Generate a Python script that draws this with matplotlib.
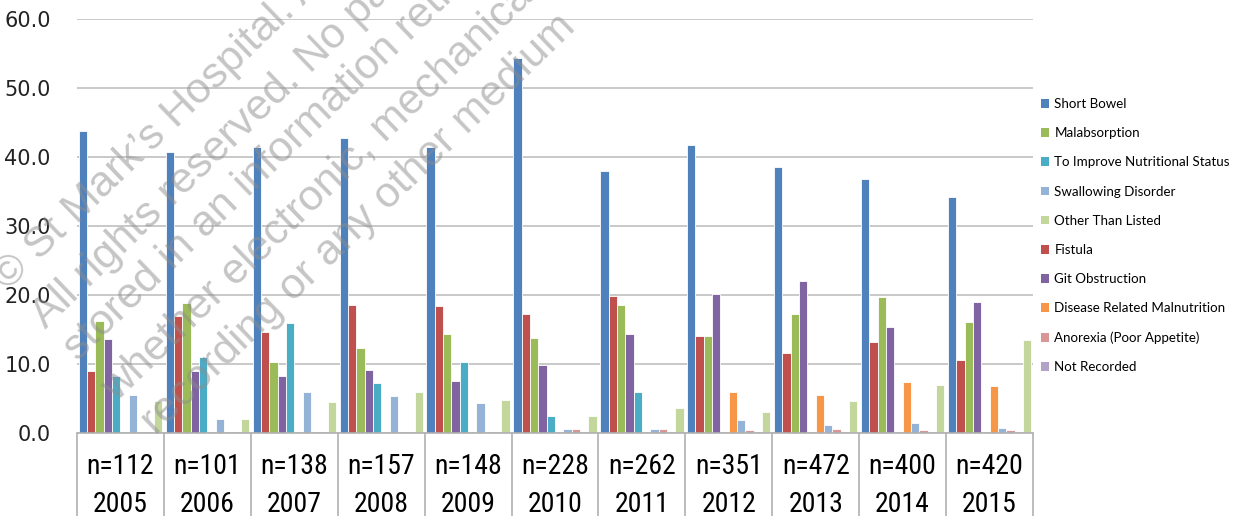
import matplotlib
matplotlib.use('Agg')
import matplotlib.pyplot as plt
import matplotlib.transforms as mtransforms
from matplotlib.patches import Patch
import numpy as np

# categories / bottom table labels
years = ['2005', '2006', '2007', '2008', '2009', '2010', '2011', '2012', '2013', '2014', '2015']
n_labels = ['n=112', 'n=101', 'n=138', 'n=157', 'n=148', 'n=228', 'n=262', 'n=351', 'n=472', 'n=400', 'n=420']

# percentages per indication
short_bowel = [43.8, 40.7, 41.4, 42.7, 41.4, 54.4, 37.9, 41.7, 38.6, 36.8, 34.2]
fistula = [9.0, 17.0, 14.6, 18.6, 18.4, 17.2, 19.9, 14.1, 11.6, 13.2, 10.6]
malabsorption = [16.2, 18.9, 10.3, 12.3, 14.3, 13.7, 18.5, 14.1, 17.3, 19.7, 16.1]
git_obstruction = [13.6, 9.0, 8.2, 9.1, 7.6, 9.9, 14.3, 20.1, 22.0, 15.4, 19.0]
improve_nutrition = [8.2, 11.0, 16.0, 7.2, 10.3, 2.4, 5.9, 0.0, 0.0, 0.0, 0.0]
disease_malnutrition = [0.0, 0.0, 0.0, 0.0, 0.0, 0.0, 0.0, 5.9, 5.5, 7.4, 6.8]
swallowing = [5.5, 2.1, 5.9, 5.3, 4.3, 0.6, 0.6, 1.9, 1.1, 1.5, 0.7]
anorexia = [0.0, 0.0, 0.0, 0.0, 0.0, 0.6, 0.6, 0.5, 0.6, 0.4, 0.5]
not_recorded = [0.0, 0.0, 0.0, 0.0, 0.0, 0.0, 0.0, 0.0, 0.0, 0.0, 0.0]
other_listed = [4.6, 2.1, 4.5, 5.9, 4.8, 2.4, 3.6, 3.0, 4.6, 6.9, 13.5]

# bar order within each year group
series = [
    ('Short Bowel', short_bowel, '#4F81BD'),
    ('Fistula', fistula, '#C0504D'),
    ('Malabsorption', malabsorption, '#9BBB59'),
    ('Git Obstruction', git_obstruction, '#8064A2'),
    ('To Improve Nutritional Status', improve_nutrition, '#4BACC6'),
    ('Disease Related Malnutrition', disease_malnutrition, '#F79646'),
    ('Swallowing Disorder', swallowing, '#95B3D7'),
    ('Anorexia (Poor Appetite)', anorexia, '#D99694'),
    ('Not Recorded', not_recorded, '#B3A2C7'),
    ('Other Than Listed', other_listed, '#C3D69B'),
]
# legend order as in the original
legend_order = ['Short Bowel', 'Malabsorption', 'To Improve Nutritional Status',
                'Swallowing Disorder', 'Other Than Listed', 'Fistula', 'Git Obstruction',
                'Disease Related Malnutrition', 'Anorexia (Poor Appetite)', 'Not Recorded']

fig = plt.figure(figsize=(12.44, 5.16), dpi=100)
ax = fig.add_axes([77 / 1244, 83 / 516, 956 / 1244, 414 / 516])

x = np.arange(len(years))
nser = len(series)
w = 1.0 / (nser + 0.43)
colors = {}
for i, (name, vals, col) in enumerate(series):
    off = (i - (nser - 1) / 2) * w
    ax.bar(x + off, vals, width=w, color=col, edgecolor='white', linewidth=0.6)
    colors[name] = col

ax.set_xlim(-0.5, len(years) - 0.5)
ax.set_ylim(0, 60)
ax.set_yticks(np.arange(0, 61, 10))
ax.set_yticklabels(['%.1f' % v for v in np.arange(0, 61, 10)], fontsize=15, color='#222222')
ax.yaxis.grid(True, color='#c0c0c0', linewidth=1.2)
ax.set_axisbelow(True)
ax.tick_params(axis='y', length=0, pad=19)
ax.set_xticks([])
for s in ['left', 'right', 'top']:
    ax.spines[s].set_visible(False)
ax.spines['bottom'].set_color('#b0b0b0')
ax.spines['bottom'].set_linewidth(1.2)

# category table under the axis
trans = mtransforms.blended_transform_factory(ax.transData, ax.transAxes)
bounds = np.arange(len(years) + 1) - 0.5
ax.vlines(bounds, -0.21, 0, transform=trans, color='#b0b0b0', linewidth=1.2, clip_on=False)
cat_font = dict(fontsize=20, family=['Roboto Condensed', 'DejaVu Sans'], fontstretch='condensed')
for i in range(len(years)):
    ax.text(x[i], -0.082, n_labels[i], transform=trans, ha='center', va='center', **cat_font)
    ax.text(x[i], -0.173, years[i], transform=trans, ha='center', va='center', **cat_font)

handles = [Patch(facecolor=colors[n], edgecolor='none') for n in legend_order]
fig.legend(handles, legend_order, loc='upper left', bbox_to_anchor=(1029 / 1244, 1 - 86 / 516),
           frameon=False, handlelength=0.6, handleheight=0.6,
           handletextpad=0.4, labelspacing=1.29, prop={'family': 'Lato', 'size': 9.6})

# copyright watermark
wm_lines = ["\u00a9 St Mark\u2019s Hospital. All rights",
            "All rights reserved. No part of this",
            "stored in an information retrieval",
            "whether electronic, mechanical,",
            "recording or any other medium"]
wm_starts = [(8, 292), (46, 330), (78, 362), (116, 402), (156, 436)]
for txt, (px, py) in zip(wm_lines, wm_starts):
    fig.text(px / 1244, 1 - py / 516, txt, rotation=44, rotation_mode='anchor',
             ha='left', va='baseline', fontsize=31, color='#8c8c8c', alpha=0.5,
             family=['Liberation Sans', 'DejaVu Sans'], zorder=10)

fig.savefig('out.png', dpi=100)
